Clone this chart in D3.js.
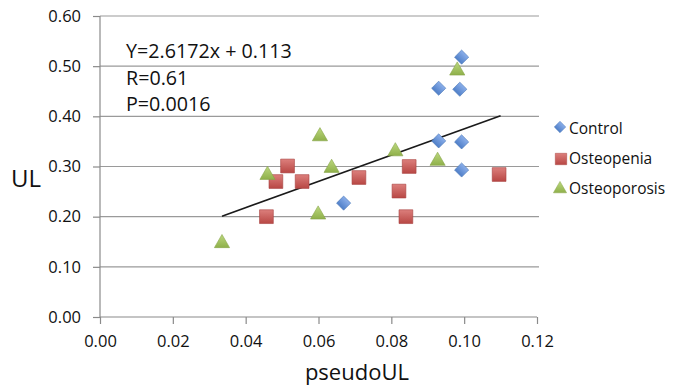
<!DOCTYPE html>
<html>
<head>
<meta charset="utf-8">
<script src="https://cdn.jsdelivr.net/npm/d3@7"></script>
<style>
  body { margin: 0; background: #fff; }
  svg { font-family: "Open Sans", sans-serif; display: block; }
</style>
</head>
<body>
<svg id="chart" width="675" height="385"></svg>
<script>
// Data
const controlX = [0.0993, 0.0930, 0.0988, 0.0930, 0.0993, 0.0993, 0.0669];
const controlY = [0.518, 0.456, 0.454, 0.351, 0.349, 0.293, 0.227];

const osteopeniaX = [0.0457, 0.0483, 0.0515, 0.0555, 0.0711, 0.0821, 0.0840, 0.0849, 0.1096];
const osteopeniaY = [0.200, 0.270, 0.301, 0.270, 0.278, 0.251, 0.200, 0.300, 0.284];

const osteoporosisX = [0.0335, 0.0460, 0.0599, 0.0604, 0.0636, 0.0811, 0.0927, 0.0981];
const osteoporosisY = [0.150, 0.286, 0.207, 0.363, 0.300, 0.333, 0.314, 0.494];

// trend line end points (Y = 2.6172x + 0.113)
const trendX = [0.0335, 0.110];
const trendY = [0.201, 0.401];

const xTicks = [0, 0.02, 0.04, 0.06, 0.08, 0.10, 0.12];
const yTicks = [0, 0.1, 0.2, 0.3, 0.4, 0.5, 0.6];
const statLines = ["Y=2.6172x + 0.113", "R=0.61", "P=0.0016"];

const zip = (xs, ys) => xs.map((x, i) => ({ x, y: ys[i] }));
const series = [
    { name: "Control", shape: "diamond", grad: "gBlue", stroke: "#4a78b8", pts: zip(controlX, controlY) },
    { name: "Osteopenia", shape: "square", grad: "gRed", stroke: "#a8423f", pts: zip(osteopeniaX, osteopeniaY) },
    { name: "Osteoporosis", shape: "triangle", grad: "gGreen", stroke: "#86a448", pts: zip(osteoporosisX, osteoporosisY) },
];

const translate = (x, y) => `translate(${x}, ${y})`;
const margins = { top: 16, right: 135, bottom: 68, left: 100 };
const width = 675, height = 385;

const svg = d3.select("#chart");

// gradients for the glossy Excel-ish markers
const defs = svg.append("defs");
const addGrad = (id, top, bottom) => {
    const g = defs.append("linearGradient").attr("id", id)
        .attr("x1", 0).attr("y1", 0).attr("x2", 0).attr("y2", 1);
    g.append("stop").attr("offset", "0%").attr("stop-color", top);
    g.append("stop").attr("offset", "100%").attr("stop-color", bottom);
};
addGrad("gBlue", "#8aaeea", "#4f7fc8");
addGrad("gRed", "#dc7f7c", "#b84744");
addGrad("gGreen", "#bcd87e", "#8fb04a");

const x = d3.scaleLinear().domain([0, 0.12]).range([margins.left, margins.left + 437]);
const y = d3.scaleLinear().domain([0, 0.6]).range([height - margins.bottom, margins.top]);

// grid lines
svg.append("g")
    .selectAll("line")
    .data(yTicks.slice(1))
    .join("line")
    .attr("x1", x(0)).attr("x2", x(0.12) + 2)
    .attr("y1", d => y(d)).attr("y2", d => y(d))
    .attr("stroke", "#9a9a9a").attr("stroke-width", 1.2);

// Y axis
const yAxis = d3.axisLeft(y).tickValues(yTicks).tickFormat(d3.format(".2f")).tickSize(7).tickPadding(12);
const gy = svg.append("g").attr("transform", translate(x(0), 0)).call(yAxis);

// X axis
const xAxis = d3.axisBottom(x).tickValues(xTicks).tickFormat(d3.format(".2f")).tickSize(7).tickPadding(11);
const gx = svg.append("g").attr("transform", translate(0, y(0))).call(xAxis);

[gx, gy].forEach(g => {
    g.select(".domain").attr("stroke", "#8a8a8a").attr("stroke-width", 1.2);
    g.selectAll(".tick line").attr("stroke", "#8a8a8a").attr("stroke-width", 1.2);
    g.selectAll(".tick text").attr("fill", "#111").attr("font-size", 16.5)
        .attr("font-family", "'Open Sans', sans-serif");
});
gy.select(".domain").attr("d", `M0,${y(0.6)}V${y(0)}`);
gx.select(".domain").attr("d", `M${x(0)},0H${x(0.12)}`);

// axis titles
svg.append("text").text("UL")
    .attr("x", 11).attr("y", 187)
    .attr("font-size", 24).attr("fill", "#111");
svg.append("text").text("pseudoUL")
    .attr("x", (x(0.04) + x(0.10)) / 2 + 2).attr("y", 380)
    .attr("text-anchor", "middle")
    .attr("font-size", 22).attr("fill", "#111");

// stats annotation
svg.append("g").selectAll("text")
    .data(statLines)
    .join("text")
    .text(d => d)
    .attr("x", 126)
    .attr("y", (d, i) => 58 + i * 26.7)
    .attr("font-size", 19.7).attr("fill", "#111");

// trend line
const trend = zip(trendX, trendY);
svg.append("path")
    .datum(trend)
    .attr("d", d3.line().x(d => x(d.x)).y(d => y(d.y)))
    .attr("stroke", "#1a1a1a").attr("stroke-width", 1.6).attr("fill", "none");

// markers
const shapePath = shape => {
    if (shape === "diamond") return d3.symbol(d3.symbolSquare, 100)();
    if (shape === "square") return d3.symbol(d3.symbolSquare, 190)();
    return d3.symbol(d3.symbolTriangle, 100)();
};
const shapeRot = shape => shape === "diamond" ? " rotate(45)" : "";

series.forEach(s => {
    svg.append("g").attr("class", s.name)
        .selectAll("path")
        .data(s.pts)
        .join("path")
        .attr("d", shapePath(s.shape))
        .attr("transform", d => translate(x(d.x), y(d.y) + (s.shape === "triangle" ? 1.5 : 0)) + shapeRot(s.shape))
        .attr("fill", `url(#${s.grad})`)
        .attr("stroke", s.stroke).attr("stroke-width", 0.6);
});

// legend
const legend = svg.append("g").attr("transform", translate(560, 127));
series.forEach((s, i) => {
    const row = legend.append("g").attr("transform", translate(0, i * 30));
    const sz = s.shape === "square" ? 130 : (s.shape === "diamond" ? 65 : 75);
    row.append("path")
        .attr("d", d3.symbol(s.shape === "triangle" ? d3.symbolTriangle : d3.symbolSquare, sz)())
        .attr("transform", (s.shape === "square" ? translate(1, 2) : s.shape === "triangle" ? translate(0, 2) : "") + shapeRot(s.shape))
        .attr("fill", `url(#${s.grad})`)
        .attr("stroke", s.stroke).attr("stroke-width", 0.5);
    row.append("text").text(s.name)
        .attr("x", 9).attr("y", 7)
        .attr("font-size", 15.5).attr("fill", "#111");
});
</script>
</body>
</html>
